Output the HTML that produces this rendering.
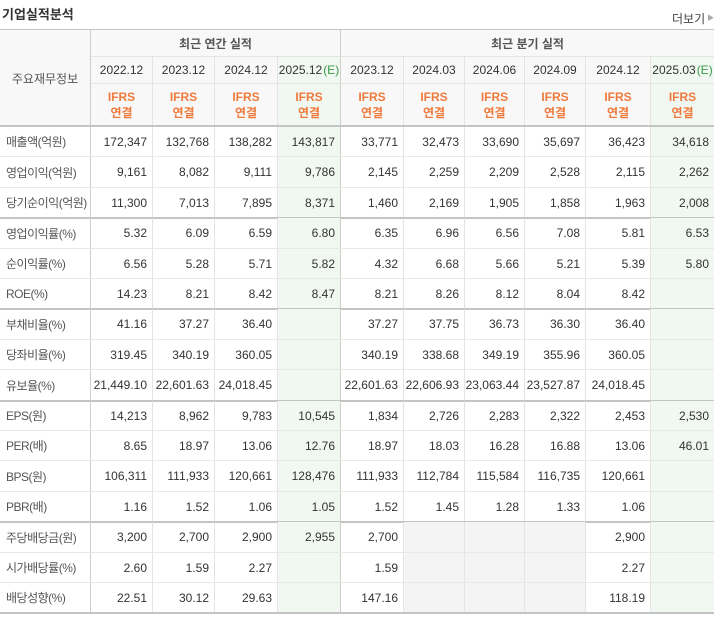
<!DOCTYPE html>
<html><head><meta charset="utf-8">
<style>
html,body{margin:0;padding:0;background:#fff;}
body{width:720px;height:617px;position:relative;overflow:hidden;font-family:"Liberation Sans","Noto Sans CJK KR","NanumGothic",sans-serif;color:#333;}
.c{position:absolute;box-sizing:border-box;font-size:12px;display:flex;align-items:center;white-space:nowrap;}
</style></head><body>
<div class="c" style="left:2px;top:4px;height:18px;font-size:13px;font-weight:bold;color:#333;">기업실적분석</div>
<div class="c" style="left:672px;top:10px;height:16px;font-size:12px;color:#444;">더보기<span style="font-size:7px;color:#aaa;margin-left:2px;">▶</span></div>
<div id="tbl"></div>
<script>
const annualDates=["2022.12","2023.12","2024.12","2025.12"];
const quarterDates=["2023.12","2024.03","2024.06","2024.09","2024.12","2025.03"];
const rowLabels=["매출액(억원)","영업이익(억원)","당기순이익(억원)","영업이익률(%)","순이익률(%)","ROE(%)","부채비율(%)","당좌비율(%)","유보율(%)","EPS(원)","PER(배)","BPS(원)","PBR(배)","주당배당금(원)","시가배당률(%)","배당성향(%)"];
const values=[
["172,347","132,768","138,282","143,817","33,771","32,473","33,690","35,697","36,423","34,618"],
["9,161","8,082","9,111","9,786","2,145","2,259","2,209","2,528","2,115","2,262"],
["11,300","7,013","7,895","8,371","1,460","2,169","1,905","1,858","1,963","2,008"],
["5.32","6.09","6.59","6.80","6.35","6.96","6.56","7.08","5.81","6.53"],
["6.56","5.28","5.71","5.82","4.32","6.68","5.66","5.21","5.39","5.80"],
["14.23","8.21","8.42","8.47","8.21","8.26","8.12","8.04","8.42",""],
["41.16","37.27","36.40","","37.27","37.75","36.73","36.30","36.40",""],
["319.45","340.19","360.05","","340.19","338.68","349.19","355.96","360.05",""],
["21,449.10","22,601.63","24,018.45","","22,601.63","22,606.93","23,063.44","23,527.87","24,018.45",""],
["14,213","8,962","9,783","10,545","1,834","2,726","2,283","2,322","2,453","2,530"],
["8.65","18.97","13.06","12.76","18.97","18.03","16.28","16.88","13.06","46.01"],
["106,311","111,933","120,661","128,476","111,933","112,784","115,584","116,735","120,661",""],
["1.16","1.52","1.06","1.05","1.52","1.45","1.28","1.33","1.06",""],
["3,200","2,700","2,900","2,955","2,700","","","","2,900",""],
["2.60","1.59","2.27","","1.59","","","","2.27",""],
["22.51","30.12","29.63","","147.16","","","","118.19",""]
];
const colX=[0,91,153,215,278,341,404,465,525,586,651,714];
const T=document.getElementById('tbl');
function cell(x,y,w,h,html,style,name){
  const d=document.createElement('div');
  d.className='c';
  
  
  d.style.cssText=`left:${x}px;top:${y}px;width:${w}px;height:${h}px;`+style;
  d.innerHTML=html;T.appendChild(d);return d;
}
const hb='background:#f8f8f8;';
const grayB='border-right:1px solid #e4e4e4;';
const est='background:#f1f7f1;';
cell(0,30,91,96,'주요재무정보',hb+'justify-content:center;color:#555;border-right:1px solid #cfcfcf;','header-label');
cell(91,30,250,27,'최근 연간 실적',hb+'justify-content:center;font-weight:bold;color:#555;border-right:1px solid #cfcfcf;border-bottom:1px solid #e4e4e4;','annual-header');
cell(341,30,373,27,'최근 분기 실적',hb+'justify-content:center;font-weight:bold;color:#555;border-bottom:1px solid #e4e4e4;','quarter-header');
const dates=annualDates.concat(quarterDates);
for(let i=0;i<10;i++){
  const x=colX[i+1],w=colX[i+2]-x;
  const isE=(i===3||i===9);
  const bg=isE?est:hb;
  const br=(i===3)?'border-right:1px solid #cfcfcf;':(i===9?'':grayB);
  cell(x,57,w,27,dates[i]+(isE?'<span style="color:#3a9a4a;margin-left:1px;">(E)</span>':''),bg+br+'justify-content:center;border-bottom:1px solid #e4e4e4;','date-header');
  cell(x,84,w,42,'<div style="text-align:center;line-height:16px;font-weight:bold;color:#f07a3c;">IFRS<br>연결</div>',bg+br+'justify-content:center;','ifrs-label');
}
cell(0,29,714,1,'','background:#c4c4c4;','table-top-border');
cell(0,125,714,2,'','background:#c4c4c4;','header-bottom-border');
const rh=30.4, y0=127;
const groupEnds=[2,5,8,12];
for(let r=0;r<16;r++){
  const y=Math.round(y0+r*rh), y2=Math.round(y0+(r+1)*rh)-1, h=y2-y;
  cell(0,y,91,h,rowLabels[r],'padding-left:6px;color:#555;letter-spacing:-0.5px;border-right:1px solid #cfcfcf;','row-label');
  for(let i=0;i<10;i++){
    const x=colX[i+1],w=colX[i+2]-x;
    const v=values[r][i];
    let bg='';
    if(i===3||i===9) bg=est;
    else if(r>=13 && i>=5 && i<=7) bg='background:#f4f4f4;';
    const br=(i===3)?'border-right:1px solid #cfcfcf;':(i===9?'':grayB);
    cell(x,y,w,h,v,bg+br+'justify-content:flex-end;padding-right:5px;','value-cell');
  }
  const isG=groupEnds.includes(r)||r===15;
  cell(0,y2,714,1,'',isG?'background:#c4c4c4;height:2px;':'background:#e8e8e8;','row-border');
}
</script>
</body></html>
